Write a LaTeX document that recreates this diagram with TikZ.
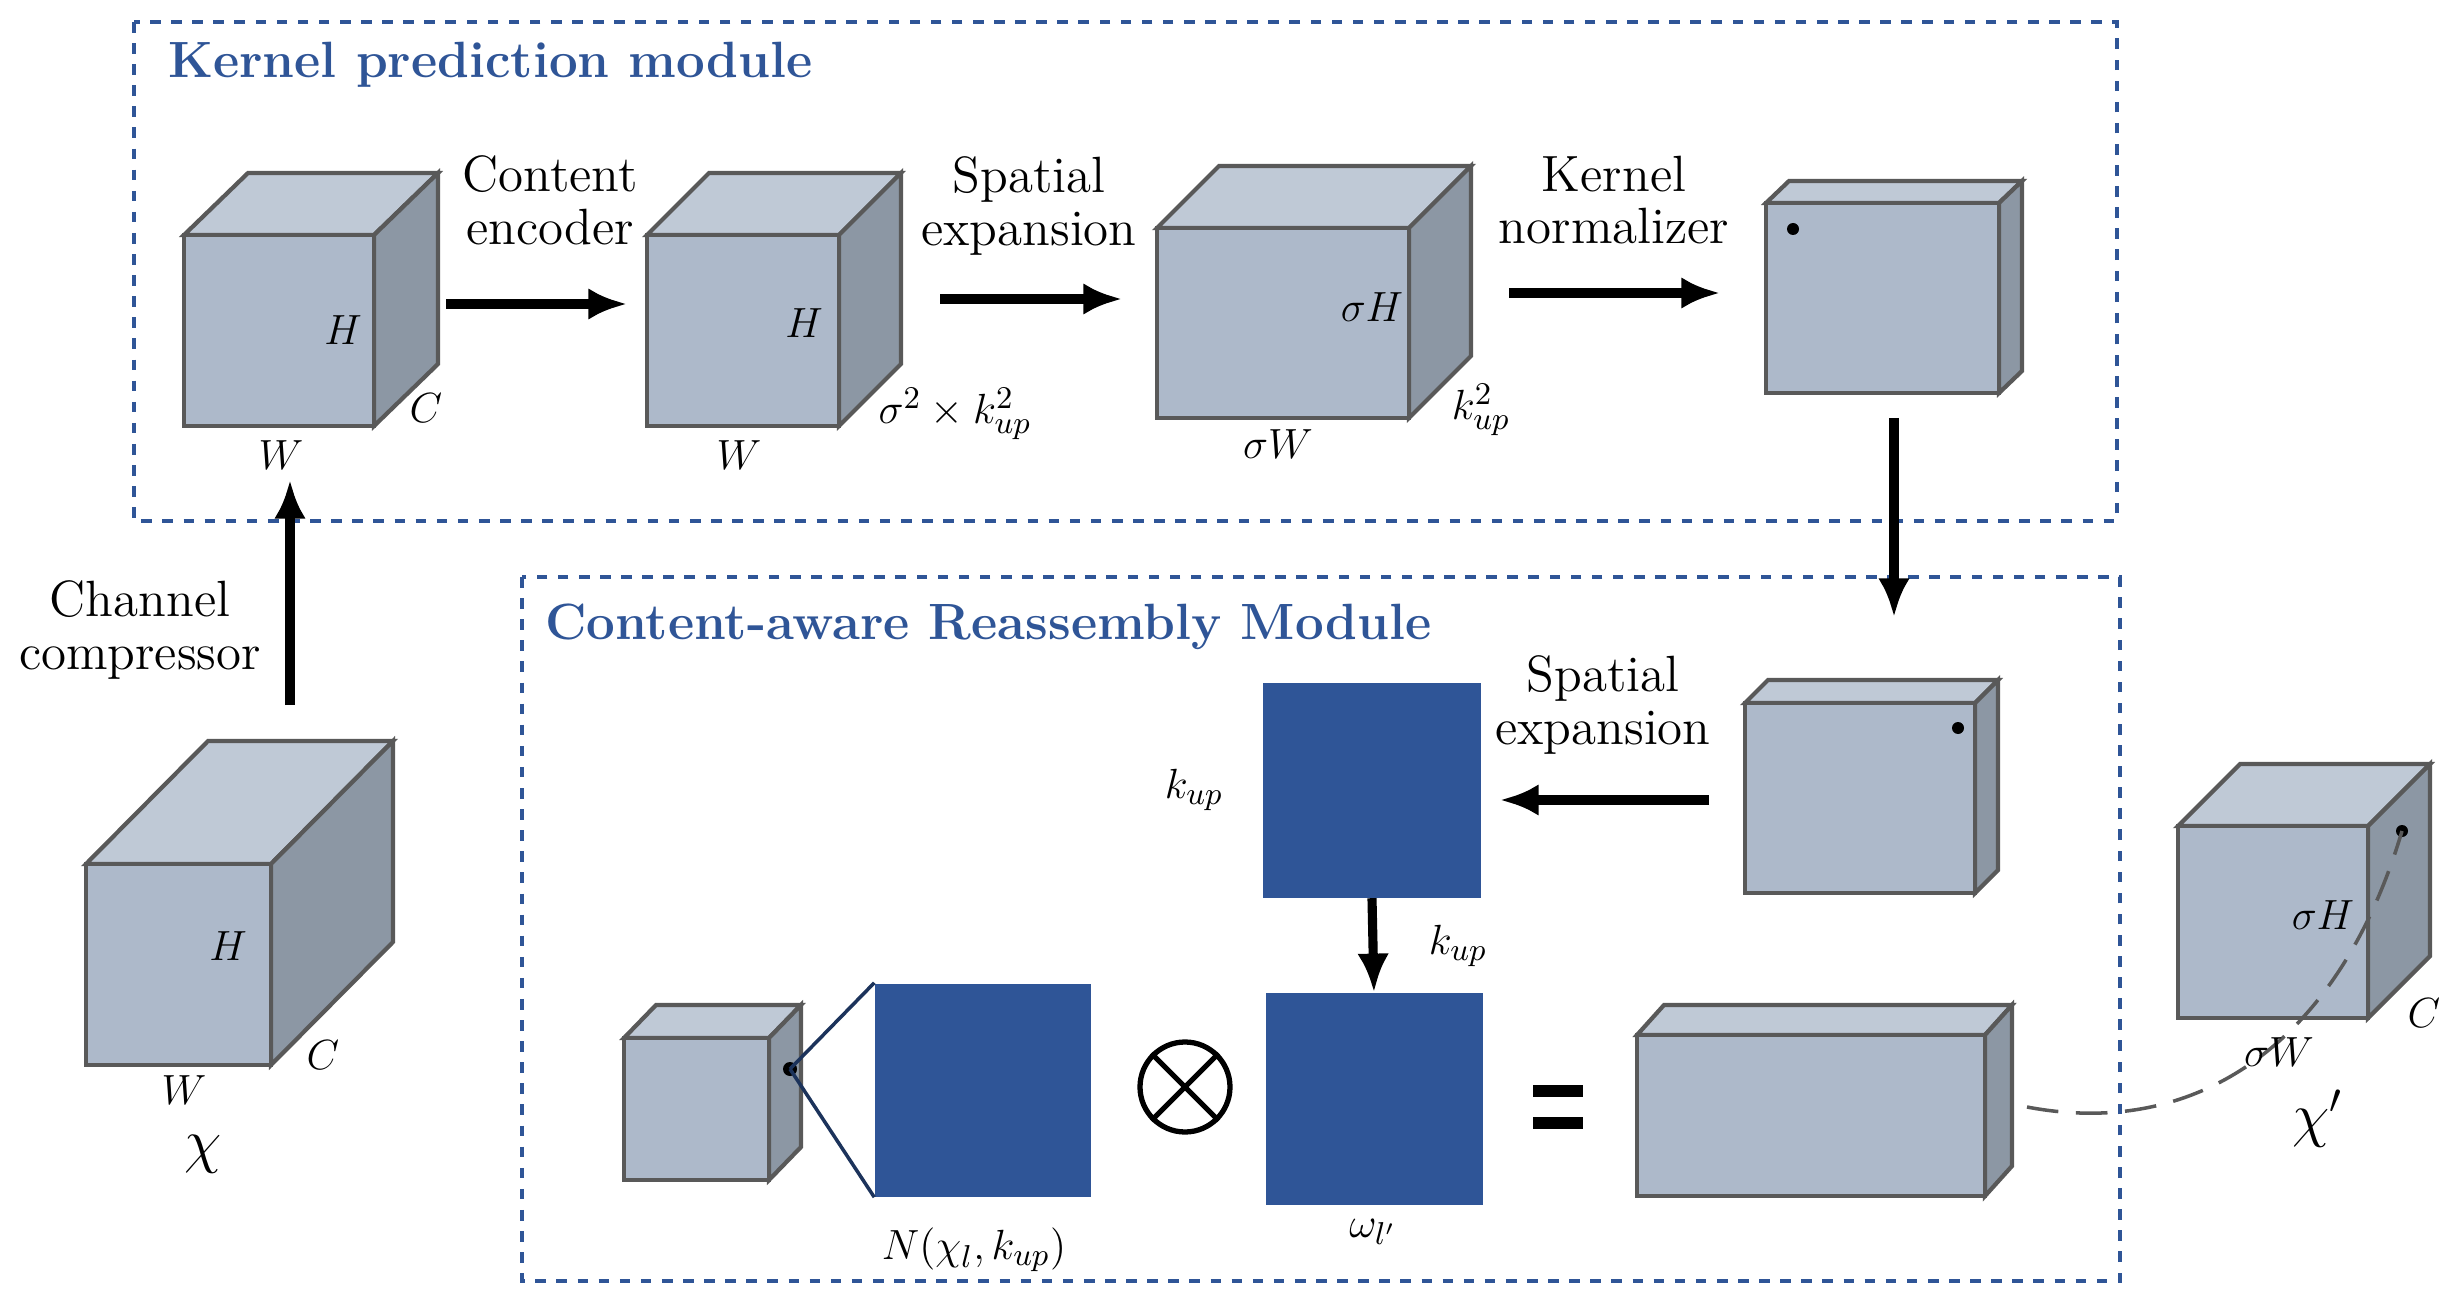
\documentclass[tikz,border=0pt]{standalone}
\usepackage{amsmath}
\usetikzlibrary{arrows.meta}
\begin{document}
\definecolor{cfront}{HTML}{ADB9CA}
\definecolor{ctop}{HTML}{BFC9D6}
\definecolor{cside}{HTML}{8C97A4}
\definecolor{cedge}{HTML}{595959}
\definecolor{cblue}{HTML}{2F5597}
\newcommand{\mycube}[7]{%
 \filldraw[fill=ctop,draw=cedge,line width=1.2pt] (#2,#3) -- ++(#6,#7) -- (#4+#6,#3+#7) -- (#4,#3) -- cycle;
 \filldraw[fill=cside,draw=cedge,line width=1.2pt] (#4,#3) -- (#4+#6,#3+#7) -- (#4+#6,#5+#7) -- (#4,#5) -- cycle;
 \filldraw[fill=cfront,draw=cedge,line width=1.2pt] (#2,#3) rectangle (#4,#5);
 \coordinate (#1) at ({(#2+#4)/2},{(#3+#5)/2});}
\begin{tikzpicture}[x=0.01cm,y=-0.01cm,
 lbl/.style={font=\fontsize{14.5}{16}\selectfont,align=center,inner sep=1pt},
 mth/.style={font=\fontsize{13}{15}\selectfont,inner sep=1pt},
 ttl/.style={font=\fontsize{14.5}{16}\selectfont\bfseries,text=cblue,anchor=west},
 arr/.style={-{Latex[length=11pt,width=9pt]},line width=2.6pt},
 box/.style={draw=cblue,dashed,line width=1pt},
 blue/.style={fill=cblue,draw=none}]
\useasboundingbox (0,0) rectangle (2444,1300);
\draw[box] (134,22) rectangle (2117,521);
\draw[box] (522,577) rectangle (2120,1281);
\node[ttl] (t1) at (156,65) {Kernel prediction module};
\node[ttl] (t2) at (533,627) {Content-aware Reassembly Module};
\mycube{c1}{184}{235}{374}{426}{64}{-62}
\mycube{c2}{647}{235}{839}{426}{62}{-62}
\mycube{c3}{1157}{228}{1409}{418}{62}{-62}
\mycube{c4}{1766}{203}{1999}{393}{23}{-22}
\mycube{c5}{1745}{703}{1975}{893}{23}{-23}
\mycube{cx}{86}{864}{271}{1065}{122}{-123}
\mycube{cy}{2178}{826}{2368}{1018}{62}{-62}
\mycube{cs}{624}{1038}{769}{1180}{32}{-33}
\mycube{cl}{1637}{1035}{1985}{1196}{27}{-30}
\fill (1793,229) circle (6);
\fill (1958,728) circle (6);
\fill (790,1069) circle (7);
\fill (2402,831) circle (6);
\node[blue,minimum width=218*0.01cm,minimum height=215*0.01cm,inner sep=0] (s1) at (1372,790) {};
\node[blue,minimum width=217*0.01cm,minimum height=212*0.01cm,inner sep=0] (s2) at (1374,1099) {};
\node[blue,minimum width=216*0.01cm,minimum height=213*0.01cm,inner sep=0] (s3) at (983,1090) {};
\coordinate (d) at (790,1069);
\draw[cblue!60!black,line width=1pt] (d) -- (s3.north west) (d) -- (s3.south west);
\node[draw,circle,line width=1.5pt,minimum size=90*0.01cm,inner sep=0] (ot) at (1185,1087) {};
\draw[line width=1.5pt] (ot.45) -- (ot.225) (ot.135) -- (ot.315);
\node[minimum width=50*0.01cm,minimum height=42*0.01cm,inner sep=0] (eq) at (1559,1107) {};
\fill (eq.north west) rectangle ++(50,12);
\fill (eq.south west) rectangle ++(50,-12);
\coordinate (a1s) at (446,304); \coordinate (a1e) at (627,304);
\coordinate (a2s) at (940,299); \coordinate (a2e) at (1122,299);
\coordinate (a3s) at (1509,293); \coordinate (a3e) at (1720,293);
\coordinate (a4s) at (1894,418); \coordinate (a4e) at (1894,617);
\coordinate (a5s) at (1709,800); \coordinate (a5e) at (1500,800);
\coordinate (a7s) at (290,705); \coordinate (a7e) at (290,480);
\draw[arr] (a1s) -- (a1e);
\draw[arr] (a2s) -- (a2e);
\draw[arr] (a3s) -- (a3e);
\draw[arr] (a4s) -- (a4e);
\draw[arr] (a5s) -- (a5e);
\draw[arr] (s1.south) -- (s2.north);
\draw[arr] (a7s) -- (a7e);
\coordinate (ce) at (2027,1107);
\draw[line width=1pt,dash pattern=on 9pt off 5pt,cedge] (ce) .. controls (2200,1140) and (2340,1040) .. (2402,831);
\node[lbl] (l1) at (550,200) {Content\\[-1pt]encoder};
\node[lbl] (l2) at (1029,206) {Spatial\\[-1pt]expansion};
\node[lbl] (l3) at (1614,200) {Kernel\\[-1pt]normalizer};
\node[lbl] (l4) at (140,630) {Channel\\[-1pt]compressor};
\node[lbl] (l5) at (1603,705) {Spatial\\[-1pt]expansion};
\node[mth] at (343,330) {$H$};
\node[mth] at (426,408) {$C$};
\node[mth] at (281,455) {$W$};
\node[mth] at (804,323) {$H$};
\node[mth] at (955,414) {$\sigma^2\times k_{up}^2$};
\node[mth] at (739,455) {$W$};
\node[mth] at (1372,307) {$\sigma H$};
\node[mth] at (1481,410) {$k_{up}^2$};
\node[mth] at (1278,444) {$\sigma W$};
\node[mth] at (1194,790) {$k_{up}$};
\node[mth] at (1458,946) {$k_{up}$};
\node[mth] at (974,1250) {$N(\chi_l,k_{up})$};
\node[mth] at (1373,1232) {$\omega_{l'}$};
\node[mth] at (228,946) {$H$};
\node[mth] at (323,1055) {$C$};
\node[mth] at (184,1090) {$W$};
\node[font=\fontsize{17}{19}\selectfont] at (203,1154) {$\chi$};
\node[mth] at (2323,915) {$\sigma H$};
\node[mth] at (2279,1052) {$\sigma W$};
\node[mth] at (2424,1013) {$C$};
\node[font=\fontsize{17}{19}\selectfont] at (2318,1119) {$\chi'$};
\end{tikzpicture}
\end{document}
